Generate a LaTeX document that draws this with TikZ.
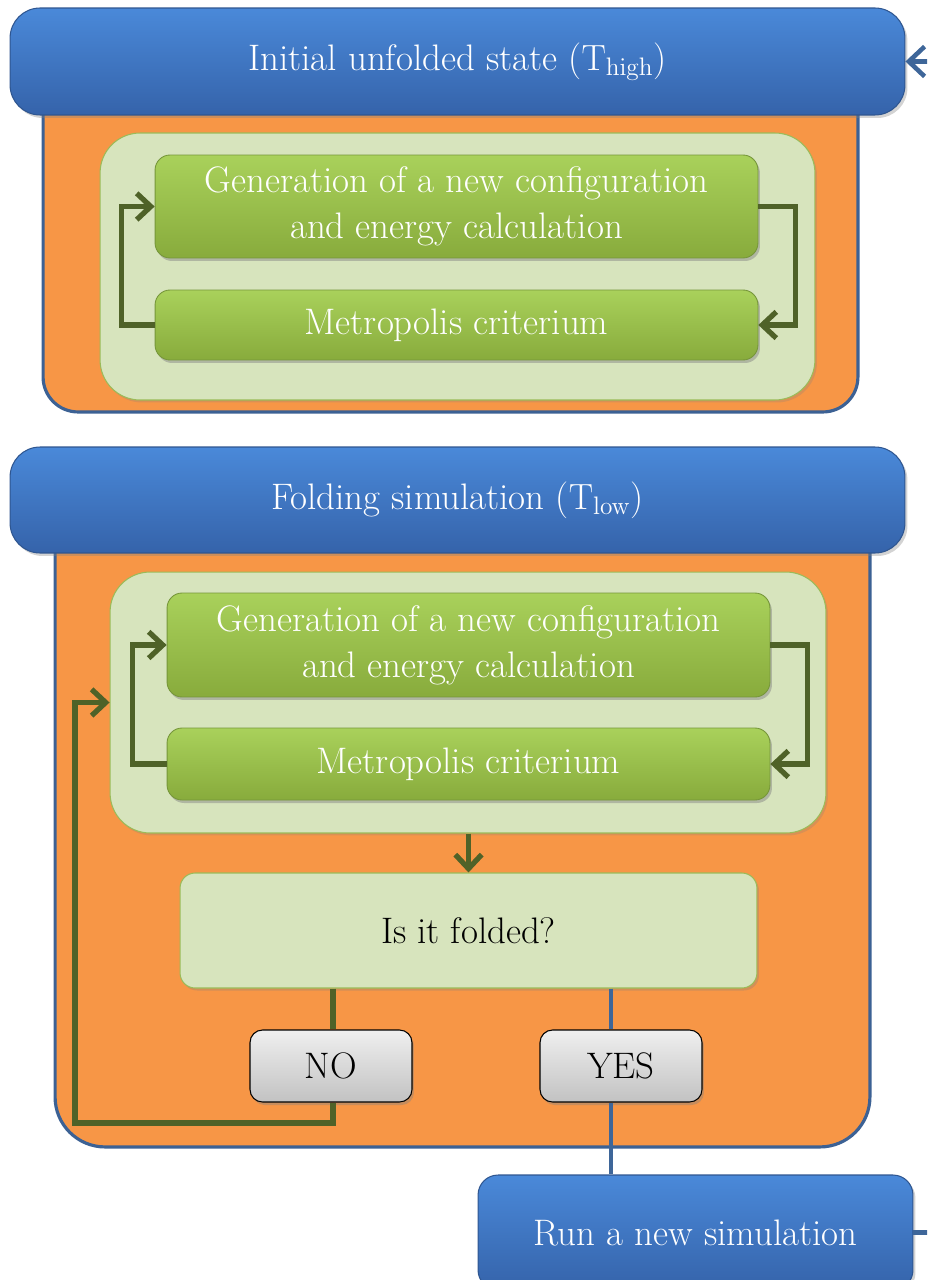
\documentclass[tikz,border=0pt]{standalone}
\usetikzlibrary{arrows.meta,shadows,calc}
\definecolor{blueTop}{HTML}{4A89D9}
\definecolor{blueBot}{HTML}{3563AA}
\definecolor{blueEdge}{HTML}{2F5690}
\definecolor{orangeF}{HTML}{F79646}
\definecolor{orangeEdge}{HTML}{3C6194}
\definecolor{paleGreen}{HTML}{D7E4BD}
\definecolor{paleEdge}{HTML}{9BBB59}
\definecolor{greenTop}{HTML}{A9D15B}
\definecolor{greenBot}{HTML}{88AB3C}
\definecolor{greenEdge}{HTML}{76963A}
\definecolor{arrGreen}{HTML}{4F6228}
\definecolor{conBlue}{HTML}{3E6699}
\definecolor{grayTop}{HTML}{EFEFEF}
\definecolor{grayBot}{HTML}{C2C2C2}
\tikzset{
  bigtxt/.style={font=\fontsize{21}{26}\selectfont},
  bluebar/.style={draw=blueEdge, line width=0.6pt, top color=blueTop, bottom color=blueBot,
    rounded corners=0.6cm, text=white, bigtxt, inner sep=0pt,
    drop shadow={opacity=0.35, shadow xshift=0.05cm, shadow yshift=-0.06cm}},
  orangebox/.style={draw=orangeEdge, line width=1.8pt, fill=orangeF, inner sep=0pt},
  container/.style={draw=paleEdge, line width=0.6pt, fill=paleGreen, rounded corners=0.8cm, inner sep=0pt,
    drop shadow={opacity=0.25, shadow xshift=0.04cm, shadow yshift=-0.05cm}},
  greenbox/.style={draw=greenEdge, line width=0.5pt, top color=greenTop, bottom color=greenBot,
    rounded corners=0.3cm, text=white, bigtxt, align=center, inner sep=0pt,
    minimum width=12.06cm,
    drop shadow={opacity=0.45, shadow xshift=0.04cm, shadow yshift=-0.06cm}},
  palebox/.style={draw=paleEdge, line width=0.6pt, fill=paleGreen, rounded corners=0.3cm,
    text=black, bigtxt, inner sep=0pt,
    drop shadow={opacity=0.3, shadow xshift=0.04cm, shadow yshift=-0.05cm}},
  graybtn/.style={draw=black, line width=0.6pt, top color=grayTop, bottom color=grayBot,
    rounded corners=0.25cm, text=black, bigtxt, inner sep=0pt,
    minimum width=3.24cm, minimum height=1.44cm,
    drop shadow={opacity=0.4, shadow xshift=0.04cm, shadow yshift=-0.06cm}},
  garrow/.style={draw=arrGreen, line width=3pt, line join=miter,
    -{Straight Barb[length=8pt,width=15pt]}},
  gline/.style={draw=arrGreen, line width=3pt, line join=miter},
  bline/.style={draw=conBlue, line width=2.4pt, line join=miter},
  barrow/.style={draw=conBlue, line width=2.6pt, line join=miter,
    -{Straight Barb[length=9pt,width=17pt]}},
}
\begin{document}
\begin{tikzpicture}[x=0.02cm,y=-0.02cm]
\useasboundingbox (0,0) rectangle (927,1280);
\clip (0,0) rectangle (927,1280);

% orange frames
\node[orangebox, rounded corners=0.7cm, minimum width=16.3cm, minimum height=7.04cm] (or1) at (450.5,236) {};
\node[orangebox, rounded corners=1cm, minimum width=16.3cm, minimum height=12.94cm] (or2) at (462.5,823.5) {};

% blue title bars
\node[bluebar, minimum width=17.9cm, minimum height=2.14cm] (top) at (457.5,61.5)
  {Initial unfolded state ($\mathrm{T}_{\mathrm{high}}$)};
\node[bluebar, minimum width=17.9cm, minimum height=2.12cm] (fold) at (457.5,500)
  {Folding simulation ($\mathrm{T}_{\mathrm{low}}$)};

% first block
\node[container, minimum width=14.3cm, minimum height=5.34cm] (cont1) at (457.5,266.5) {};
\node[greenbox, minimum height=2.06cm] (gen1) at (456.5,206.5)
  {Generation of a new configuration\\and energy calculation};
\node[greenbox, minimum height=1.4cm] (met1) at (456.5,325) {Metropolis criterium};
\draw[garrow] (met1.west) -- ++(-33,0) |- (gen1.west);
\draw[garrow] (gen1.east) -- ++(37,0) |- (met1.east);

% second block
\node[container, minimum width=14.32cm, minimum height=5.22cm] (cont2) at (468,702.5) {};
\node[greenbox, minimum height=2.08cm] (gen2) at (468.5,645)
  {Generation of a new configuration\\and energy calculation};
\node[greenbox, minimum height=1.44cm] (met2) at (468.5,764) {Metropolis criterium};
\draw[garrow] (met2.west) -- ++(-34,0) |- (gen2.west);
\draw[garrow] (gen2.east) -- ++(37,0) |- (met2.east);

\node[palebox, minimum width=11.54cm, minimum height=2.3cm] (folded) at (468.5,930.5) {Is it folded?};
\draw[garrow] (cont2.south -| folded.north) -- (folded.north);

\node[graybtn] (no) at (331,1066) {NO};
\node[graybtn] (yes) at (621,1066) {YES};

\node[bluebar, minimum width=8.7cm, minimum height=2.3cm, rounded corners=0.4cm] (run) at (695.5,1232.5)
  {Run a new simulation};

% NO branch
\coordinate (nx) at (333,0);
\coordinate (loopL) at (75,1123);
\draw[gline] (folded.south -| nx) -- (no.north -| nx);
\draw[garrow] (no.south -| nx) |- (loopL) |- (cont2.west);

% YES branch
\coordinate (yx) at (611,0);
\draw[bline] (folded.south -| yx) -- (yes.north -| yx);
\draw[bline] (yes.south -| yx) -- (run.north -| yx);

% loop back to start
\coordinate (edge) at (980,0);
\draw[barrow] (run.east) -- (run.east -| edge) |- (top.east);
\end{tikzpicture}
\end{document}
